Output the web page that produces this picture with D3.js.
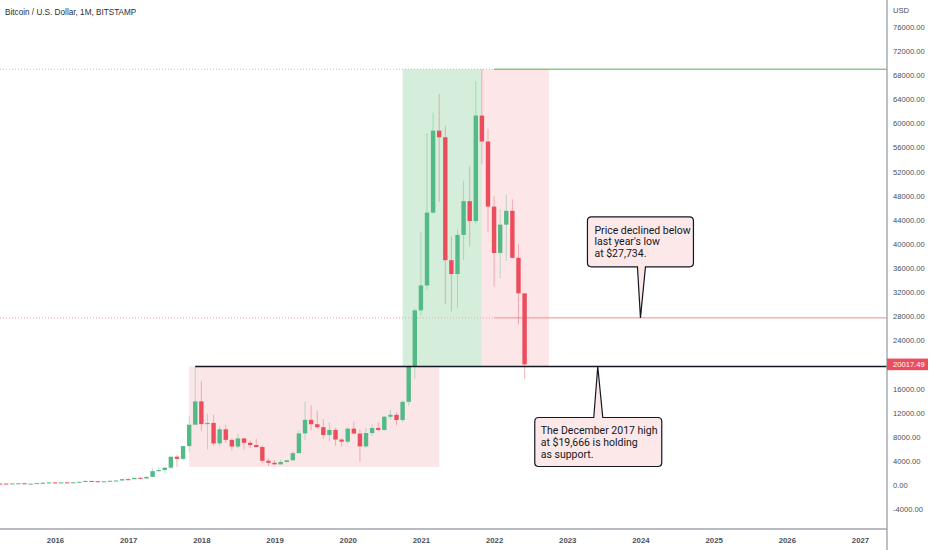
<!DOCTYPE html>
<html>
<head>
<meta charset="utf-8">
<script src="https://cdn.jsdelivr.net/npm/d3@7"></script>
<style>
	html, body { margin: 0; padding: 0; background: #fff; }
	svg { display: block; }
	.axis text { font-family: "Liberation Sans", Arial, sans-serif; fill: #4a4e59; }
	.axis path, .axis line { display: none; }
	.callout text { font-family: Roboto, "Liberation Sans", sans-serif; font-size: 10.5px; fill: #131722; }
</style>
</head>
<body>
<svg id="chart" width="932" height="550"></svg>
<script>
"use strict";

// monthly candles, Bitstamp BTC/USD, Apr 2015 .. Jun 2022
const months = [
	"2015-04", "2015-05", "2015-06", "2015-07", "2015-08", "2015-09", "2015-10", "2015-11", "2015-12",
	"2016-01", "2016-02", "2016-03", "2016-04", "2016-05", "2016-06", "2016-07", "2016-08", "2016-09", "2016-10", "2016-11", "2016-12",
	"2017-01", "2017-02", "2017-03", "2017-04", "2017-05", "2017-06", "2017-07", "2017-08", "2017-09", "2017-10", "2017-11", "2017-12",
	"2018-01", "2018-02", "2018-03", "2018-04", "2018-05", "2018-06", "2018-07", "2018-08", "2018-09", "2018-10", "2018-11", "2018-12",
	"2019-01", "2019-02", "2019-03", "2019-04", "2019-05", "2019-06", "2019-07", "2019-08", "2019-09", "2019-10", "2019-11", "2019-12",
	"2020-01", "2020-02", "2020-03", "2020-04", "2020-05", "2020-06", "2020-07", "2020-08", "2020-09", "2020-10", "2020-11", "2020-12",
	"2021-01", "2021-02", "2021-03", "2021-04", "2021-05", "2021-06", "2021-07", "2021-08", "2021-09", "2021-10", "2021-11", "2021-12",
	"2022-01", "2022-02", "2022-03", "2022-04", "2022-05", "2022-06"
];
const opens = [
	244, 236, 230, 263, 284, 230, 236, 314, 377,
	430, 369, 437, 416, 448, 531, 673, 624, 575, 608, 700, 745,
	966, 963, 1190, 1079, 1348, 2300, 2480, 2875, 4703, 4338, 6457, 10000,
	13880, 10100, 10300, 6900, 9240, 7490, 6390, 7730, 7010, 6630, 6300, 4020,
	3690, 3430, 3820, 4100, 5280, 8560, 10820, 10080, 9590, 8290, 9150, 7540,
	7190, 9350, 8540, 6410, 8620, 9450, 9140, 11330, 11650, 10780, 13800, 19700,
	28990, 33110, 45200, 58800, 57700, 37300, 35000, 41500, 47100, 43800, 61300, 57000,
	46200, 38500, 43200, 45500, 37700, 31800
];
const highs = [
	261, 247, 268, 318, 285, 245, 332, 500, 466,
	463, 445, 439, 467, 549, 775, 704, 626, 628, 720, 755, 974,
	1150, 1200, 1300, 1380, 2790, 2980, 2920, 4480, 4980, 6470, 11400, 19666,
	17200, 11800, 11700, 9750, 9990, 7770, 8500, 7760, 7400, 7680, 6600, 4400,
	4110, 4200, 4140, 5600, 9100, 13880, 13200, 12330, 10940, 10350, 9510, 7750,
	9580, 10500, 9190, 9470, 10080, 10400, 11450, 12470, 12080, 14000, 19500, 29300,
	41950, 58350, 61780, 64900, 59600, 41300, 42400, 50500, 52900, 67000, 69000, 59100,
	47950, 45800, 48200, 47400, 40000, 31900
];
const lows = [
	214, 228, 218, 253, 198, 225, 236, 300, 350,
	350, 366, 401, 412, 436, 520, 600, 470, 568, 605, 683, 741,
	760, 920, 890, 1060, 1340, 2120, 1830, 2690, 2980, 4130, 5500, 10400,
	9000, 5900, 6600, 6430, 7030, 5750, 6100, 5880, 6100, 6200, 3650, 3150,
	3350, 3380, 3740, 4080, 5330, 7450, 9070, 9320, 7710, 7300, 6520, 6430,
	6860, 8450, 3850, 6150, 8100, 8920, 8980, 10900, 9880, 10400, 13200, 17600,
	28130, 32300, 45000, 47000, 30000, 28800, 29300, 37300, 39600, 43300, 53250, 42000,
	32900, 34300, 37200, 37600, 26700, 17600
];
const closes = [
	236, 230, 263, 284, 230, 236, 314, 377, 430,
	369, 437, 416, 448, 531, 673, 624, 575, 608, 700, 745, 966,
	963, 1190, 1079, 1348, 2300, 2480, 2875, 4703, 4338, 6457, 10000, 13880,
	10100, 10300, 6900, 9240, 7490, 6390, 7730, 7010, 6630, 6300, 4020, 3690,
	3430, 3820, 4100, 5280, 8560, 10820, 10080, 9590, 8290, 9150, 7540, 7190,
	9350, 8540, 6410, 8620, 9450, 9140, 11330, 11650, 10780, 13800, 19700, 28990,
	33110, 45200, 58800, 57700, 37300, 35000, 41500, 47100, 43800, 61300, 57000, 46200,
	38500, 43200, 45500, 37700, 31800, 20017.49
];

const priceTicks = d3.range(-4000, 76001, 4000);
const yearTicks = d3.range(2016, 2028);
const lastPrice = 20017.49;

// drawn levels
const athLevel = 69000;
const lastYearLow = 27734;
const dec2017High = 19666;

// shaded ranges: [from month, to month, low, high]
const zones = [
	{ from: "2017-11", to: "2021-04", lo: 3000, hi: dec2017High, color: "#fbe6e7" },
	{ from: "2020-10", to: "2021-11", lo: dec2017High, hi: athLevel, color: "#d5eedb" },
	{ from: "2021-11", to: "2022-10", lo: dec2017High, hi: athLevel, color: "#fde6e7" }
];

const callouts = [
	{ at: "2024-01", price: lastYearLow, lines: ["Price declined below", "last year's low", "at $27,734."], dir: "up" },
	{ at: "2023-06", price: dec2017High, lines: ["The December 2017 high", "at $19,666 is holding", "as support."], dir: "down" }
];

const W = 932, H = 550;
const plotRight = 887, axisY = 529;
const upColor = "#53b987", downColor = "#eb4d5c";

const monthIndex = (s) => {
	const [y, m] = s.split("-").map(Number);
	return (y - 2016) * 12 + (m - 1);
};

const x = d3.scaleLinear().domain([0, 132]).range([55, 860]);
const y = d3.scaleLinear().domain([0, 76000]).range([485, 27]);

const svg = d3.select("#chart");

const fmtLocale = d3.formatLocale({ decimal: ".", thousands: "", grouping: [3], currency: ["$", ""], minus: "-" });
const fmt2 = fmtLocale.format(".2f");

const plot = svg.append("g").attr("class", "plot");
svg.append("defs").append("clipPath").attr("id", "clip")
	.append("rect").attr("x", 0).attr("y", 0).attr("width", plotRight).attr("height", axisY);
plot.attr("clip-path", "url(#clip)");

// zones
plot.selectAll("rect.zone")
	.data(zones)
	.enter().append("rect")
	.attr("class", "zone")
	.attr("x", (d) => x(monthIndex(d.from)))
	.attr("width", (d) => x(monthIndex(d.to)) - x(monthIndex(d.from)))
	.attr("y", (d) => y(d.hi))
	.attr("height", (d) => y(d.lo) - y(d.hi))
	.attr("fill", (d) => d.color);

// horizontal levels: dotted extension to the left, solid ray from Jan 2022
const rayStart = x(monthIndex("2022-01"));
[
	{ v: athLevel, color: "#4caf50", dot: "#a9cfae" },
	{ v: lastYearLow, color: "#f08b8f", dot: "#f2a2a5" }
].forEach((lv) => {
	plot.append("line")
		.attr("x1", 0).attr("x2", rayStart)
		.attr("y1", y(lv.v)).attr("y2", y(lv.v))
		.attr("stroke", lv.dot).attr("stroke-width", 1)
		.attr("stroke-dasharray", "1,2");
	plot.append("line")
		.attr("x1", rayStart).attr("x2", plotRight)
		.attr("y1", y(lv.v)).attr("y2", y(lv.v))
		.attr("stroke", lv.color).attr("stroke-width", 1);
});

// candles
const candles = months.map((m, i) => ({
	i: monthIndex(m), o: opens[i], h: highs[i], l: lows[i], c: closes[i]
}));
const bodyW = 4.4;
const g_candles = plot.append("g").attr("class", "candles");
g_candles.selectAll("line.wick")
	.data(candles)
	.enter().append("line")
	.attr("class", "wick")
	.attr("x1", (d) => x(d.i)).attr("x2", (d) => x(d.i))
	.attr("y1", (d) => y(d.h)).attr("y2", (d) => y(d.l))
	.attr("stroke", (d) => d.c >= d.o ? upColor : downColor)
	.attr("stroke-opacity", 0.4)
	.attr("stroke-width", 1);
g_candles.selectAll("rect.body")
	.data(candles)
	.enter().append("rect")
	.attr("class", "body")
	.attr("x", (d) => x(d.i) - bodyW / 2)
	.attr("width", bodyW)
	.attr("y", (d) => y(Math.max(d.o, d.c)))
	.attr("height", (d) => Math.max(1, Math.abs(y(d.o) - y(d.c))))
	.attr("fill", (d) => d.c >= d.o ? upColor : downColor);

// December 2017 high support line
plot.append("line")
	.attr("x1", x(monthIndex("2017-12"))).attr("x2", plotRight)
	.attr("y1", y(dec2017High)).attr("y2", y(dec2017High))
	.attr("stroke", "#131722").attr("stroke-width", 1.6);

// callouts
const calloutPath = (tx, ty, c) => {
	// box relative to the tip
	const r = 4;
	let L, R, T, B, b1, b2;
	if(c.dir == "up") {
		L = tx - 53; R = tx + 53; T = ty - 101; B = ty - 51; b1 = tx - 3; b2 = tx + 5;
		return `M${L + r},${T} H${R - r} Q${R},${T} ${R},${T + r} V${B - r} Q${R},${B} ${R - r},${B}`
			+ ` H${b2} L${tx},${ty} L${b1},${B} H${L + r} Q${L},${B} ${L},${B - r} V${T + r} Q${L},${T} ${L + r},${T} Z`;
	}
	L = tx - 63; R = tx + 64; T = ty + 51; B = ty + 100; b1 = tx - 4; b2 = tx + 5;
	return `M${L + r},${T} H${b1} L${tx},${ty} L${b2},${T} H${R - r} Q${R},${T} ${R},${T + r} V${B - r} Q${R},${B} ${R - r},${B}`
		+ ` H${L + r} Q${L},${B} ${L},${B - r} V${T + r} Q${L},${T} ${L + r},${T} Z`;
};
const g_call = svg.append("g").attr("class", "callout");
callouts.forEach((c) => {
	const tx = x(monthIndex(c.at)), ty = y(c.price);
	g_call.append("path")
		.attr("d", calloutPath(tx, ty, c))
		.attr("fill", "#fce8e9")
		.attr("stroke", "#131722")
		.attr("stroke-width", 1.2);
	const top = c.dir == "up" ? ty - 101 : ty + 51;
	const left = c.dir == "up" ? tx - 46 : tx - 57;
	c.lines.forEach((ln, k) => {
		g_call.append("text")
			.attr("x", left)
			.attr("y", top + 17 + k * 11.6)
			.text(ln);
	});
});

// price axis
svg.append("line")
	.attr("x1", plotRight).attr("x2", plotRight)
	.attr("y1", 0).attr("y2", H)
	.attr("stroke", "#a3a6af").attr("stroke-width", 1.4);
svg.append("line")
	.attr("x1", 0).attr("x2", plotRight)
	.attr("y1", axisY).attr("y2", axisY)
	.attr("stroke", "#a3a6af").attr("stroke-width", 1.6);

const yAxis = d3.axisRight(y)
	.tickValues(priceTicks)
	.tickSize(0)
	.tickPadding(6)
	.tickFormat(fmt2);
svg.append("g")
	.attr("class", "axis y-axis")
	.attr("transform", `translate(${plotRight},0)`)
	.call(yAxis)
	.selectAll("text").attr("font-size", 7.6);

svg.append("text")
	.attr("class", "axis")
	.attr("x", plotRight + 6).attr("y", 13)
	.attr("font-family", "Liberation Sans, Arial, sans-serif")
	.attr("font-size", 7.6).attr("fill", "#4a4e59")
	.text("USD");

// last price label
const g_last = svg.append("g").attr("transform", `translate(${plotRight},${y(lastPrice)})`);
g_last.append("rect")
	.attr("x", 0).attr("y", -5.8).attr("width", 41).attr("height", 11.6)
	.attr("fill", downColor);
g_last.append("text")
	.attr("x", 6).attr("dy", "0.35em")
	.attr("font-family", "Liberation Sans, Arial, sans-serif")
	.attr("font-size", 7.6).attr("fill", "#fff")
	.text(fmt2(lastPrice));

// time axis
const xAxis = d3.axisBottom(x)
	.tickValues(yearTicks.map((yr) => (yr - 2016) * 12))
	.tickSize(0)
	.tickPadding(8)
	.tickFormat((i) => String(2016 + i / 12));
svg.append("g")
	.attr("class", "axis x-axis")
	.attr("transform", `translate(0,${axisY})`)
	.call(xAxis)
	.selectAll("text").attr("font-size", 7.8).attr("font-weight", "bold").attr("fill", "#5d606b");

// title
svg.append("rect")
	.attr("x", 0).attr("y", 2).attr("width", 142).attr("height", 18)
	.attr("fill", "#fff").attr("fill-opacity", 0.8);
svg.append("text")
	.attr("x", 5).attr("y", 15)
	.attr("font-family", "Liberation Sans, Arial, sans-serif")
	.attr("font-size", 8.2)
	.attr("fill", "#2a2e39")
	.text("Bitcoin / U.S. Dollar, 1M, BITSTAMP");
</script>
</body>
</html>
